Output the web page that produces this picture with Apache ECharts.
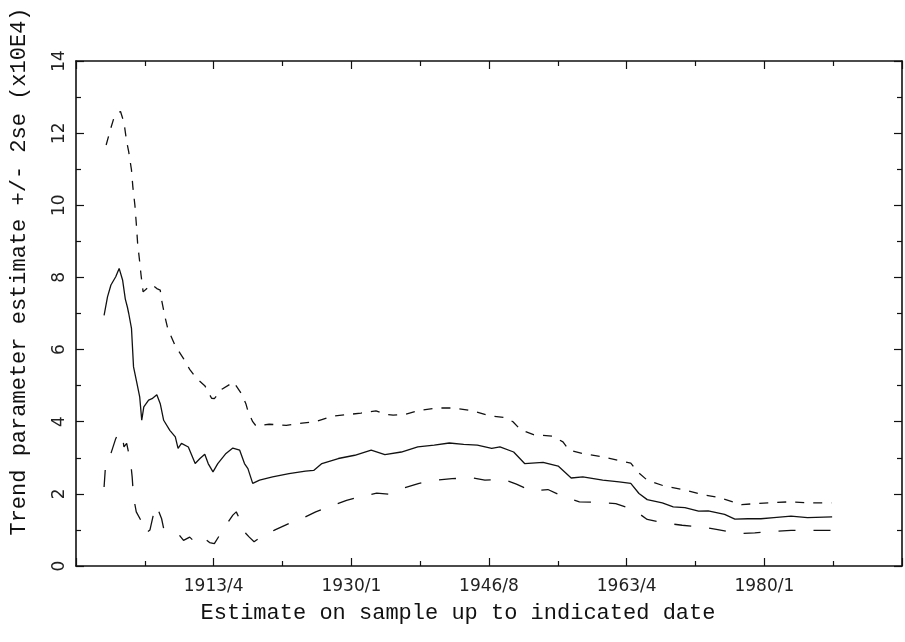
<!DOCTYPE html>
<html>
<head>
<meta charset="utf-8">
<script src="https://cdn.jsdelivr.net/npm/echarts@6/dist/echarts.min.js"></script>
<style>
  html, body { margin: 0; padding: 0; background: #fff; }
  #chart { width: 905px; height: 642px; }
</style>
</head>
<body>
<div id="chart"></div>
<script>
// x = observation number along the sample, one labelled tick every 201 obs
var tickLabels = ['', '1913/4', '1930/1', '1946/8', '1963/4', '1980/1', ''];

// trend estimate (solid)
var estX = [41, 46, 51, 58, 63, 68, 72, 75, 77, 81, 84, 89, 93, 96, 99, 106, 111, 118, 123, 128,
  137, 145, 149, 154, 164, 169, 174, 181, 188, 193, 200, 207, 219, 229, 239, 246, 251, 258, 268, 287,
  311, 335, 347, 359, 383, 407, 431, 451, 475, 499, 523, 545, 566, 586, 607, 619, 639, 655, 682, 704,
  723, 740, 769, 793, 810, 822, 834, 856, 872, 889, 909, 923, 947, 962, 981, 1000, 1019, 1044, 1068, 1104];
var estY = [6.95, 7.46, 7.79, 8.02, 8.25, 7.93, 7.4, 7.18, 7.0, 6.59, 5.52, 5.06, 4.69, 4.04, 4.41, 4.6, 4.64, 4.75, 4.5, 4.04,
  3.76, 3.58, 3.26, 3.4, 3.3, 3.07, 2.84, 2.98, 3.1, 2.84, 2.61, 2.84, 3.12, 3.27, 3.21, 2.84, 2.7, 2.29, 2.38, 2.47,
  2.56, 2.63, 2.65, 2.84, 2.98, 3.07, 3.21, 3.09, 3.16, 3.3, 3.35, 3.41, 3.37, 3.35, 3.26, 3.3, 3.16, 2.84, 2.87, 2.77,
  2.44, 2.47, 2.38, 2.33, 2.29, 2.01, 1.84, 1.75, 1.64, 1.62, 1.52, 1.53, 1.43, 1.3, 1.31, 1.31, 1.34, 1.38, 1.34, 1.36];

// estimate + 2se (upper dashed)
var upperX = [44, 51, 55, 61, 65, 70, 74, 77, 81, 83, 86, 88, 90, 93, 95, 98, 106, 111, 118, 123,
  125, 130, 134, 145, 157, 166, 176, 188, 198, 202, 213, 230, 241, 248, 251, 258, 263, 282, 307, 330,
  350, 373, 398, 416, 438, 453, 463, 480, 503, 528, 552, 580, 602, 625, 638, 649, 668, 696, 711, 720,
  739, 765, 791, 810, 820, 834, 860, 886, 912, 938, 959, 972, 992, 1018, 1044, 1072, 1103];
var upperY = [11.67, 12.15, 12.4, 12.55, 12.6, 12.3, 11.76, 11.48, 10.98, 10.51, 10.0, 9.5, 8.94, 8.43, 8.06, 7.6, 7.74, 7.8, 7.69, 7.65,
  7.37, 6.9, 6.58, 6.1, 5.75, 5.45, 5.2, 5.0, 4.65, 4.64, 4.9, 5.1, 4.79, 4.5, 4.3, 4.0, 3.88, 3.93, 3.9, 3.96,
  4.0, 4.15, 4.2, 4.24, 4.3, 4.2, 4.18, 4.2, 4.32, 4.38, 4.38, 4.3, 4.17, 4.12, 4.0, 3.78, 3.64, 3.6, 3.44, 3.21,
  3.12, 3.04, 2.93, 2.85, 2.61, 2.38, 2.21, 2.12, 1.99, 1.9, 1.78, 1.7, 1.73, 1.76, 1.78, 1.75, 1.75];

// estimate - 2se (lower dashed)
var lowerX = [41, 43, 51, 58, 63, 68, 70, 74, 80, 82, 84, 88, 96, 101, 108, 116, 120, 125, 128, 137,
  142, 149, 157, 166, 171, 181, 188, 195, 202, 217, 229, 234, 241, 248, 253, 260, 277, 289, 311, 325,
  350, 369, 395, 412, 439, 456, 477, 501, 525, 549, 578, 597, 624, 643, 665, 689, 713, 735, 764, 788,
  814, 834, 860, 885, 914, 937, 966, 991, 1019, 1044, 1073, 1102];
var lowerY = [2.19, 2.75, 3.12, 3.53, 3.72, 3.58, 3.3, 3.4, 2.84, 2.47, 1.91, 1.5, 1.22, 0.9, 1.0, 1.68, 1.55, 1.31, 1.04, 0.99,
  0.94, 0.9, 0.71, 0.8, 0.71, 0.85, 0.76, 0.65, 0.62, 1.08, 1.41, 1.5, 1.22, 0.9, 0.8, 0.67, 0.9, 0.99, 1.18, 1.27,
  1.5, 1.64, 1.82, 1.91, 2.02, 1.99, 2.15, 2.29, 2.38, 2.42, 2.45, 2.38, 2.4, 2.27, 2.08, 2.12, 1.91, 1.78, 1.76, 1.73,
  1.56, 1.29, 1.19, 1.13, 1.08, 1.01, 0.9, 0.92, 0.96, 0.99, 0.99, 0.99];

function pairs(xs, ys) {
  return xs.map(function(x, i) { return [x, ys[i]]; });
}

var ink = '#111';
var tickFont = { fontFamily: 'DejaVu Sans', fontSize: 17, color: '#222' };
var nameFont = { fontFamily: 'Liberation Mono', fontSize: 22, color: '#111' };

function xAxisBase(showLabels) {
  return {
    type: 'value', min: 0, max: 1206, interval: 201,
    axisLine: { show: true, onZero: false, lineStyle: { color: ink, width: 1.6 } },
    axisTick: { show: true, inside: true, length: 8, lineStyle: { color: ink, width: 1.2 } },
    minorTick: { show: true, splitNumber: 2, length: 5, lineStyle: { color: ink, width: 1.2 } },
    splitLine: { show: false },
    axisLabel: {
      show: showLabels, margin: 12,
      fontFamily: tickFont.fontFamily, fontSize: tickFont.fontSize, color: tickFont.color,
      formatter: function(v) { return tickLabels[Math.round(v / 201)] || ''; }
    }
  };
}

function yAxisBase(showLabels) {
  return {
    type: 'value', min: 0, max: 14, interval: 2,
    axisLine: { show: true, onZero: false, lineStyle: { color: ink, width: 1.6 } },
    axisTick: { show: true, inside: true, length: 8, lineStyle: { color: ink, width: 1.2 } },
    minorTick: { show: true, splitNumber: 2, length: 5, lineStyle: { color: ink, width: 1.2 } },
    splitLine: { show: false },
    axisLabel: {
      show: showLabels, rotate: 90, margin: 8,
      fontFamily: tickFont.fontFamily, fontSize: tickFont.fontSize, color: tickFont.color
    }
  };
}

var xBottom = xAxisBase(true);
xBottom.position = 'bottom';
xBottom.name = 'Estimate on sample up to indicated date';
xBottom.nameLocation = 'middle';
xBottom.nameGap = 36;
xBottom.nameTextStyle = { fontFamily: nameFont.fontFamily, fontSize: nameFont.fontSize, color: nameFont.color, padding: [0, 62, 0, 0] };

var xTop = xAxisBase(false);
xTop.position = 'top';

var yLeft = yAxisBase(true);
yLeft.position = 'left';
yLeft.name = 'Trend parameter estimate +/- 2se (x10E4)';
yLeft.nameLocation = 'middle';
yLeft.nameGap = 46;
yLeft.nameTextStyle = { fontFamily: nameFont.fontFamily, fontSize: nameFont.fontSize, color: nameFont.color, padding: [0, 0, 0, 84] };

var yRight = yAxisBase(false);
yRight.position = 'right';

var chart = echarts.init(document.getElementById('chart'), null, { renderer: 'canvas' });
chart.setOption({
  animation: false,
  backgroundColor: '#fff',
  grid: { left: 75, top: 61, right: -4, bottom: 76 },
  xAxis: [xBottom, xTop],
  yAxis: [yLeft, yRight],
  series: [
    {
      name: 'estimate', type: 'line', showSymbol: false, data: pairs(estX, estY),
      lineStyle: { color: ink, width: 1.3 }
    },
    {
      name: 'upper', type: 'line', showSymbol: false, data: pairs(upperX, upperY),
      lineStyle: { color: ink, width: 1.3, type: [9, 9] }
    },
    {
      name: 'lower', type: 'line', showSymbol: false, data: pairs(lowerX, lowerY),
      lineStyle: { color: ink, width: 1.3, type: [17, 18] }
    }
  ]
});
</script>
</body>
</html>
